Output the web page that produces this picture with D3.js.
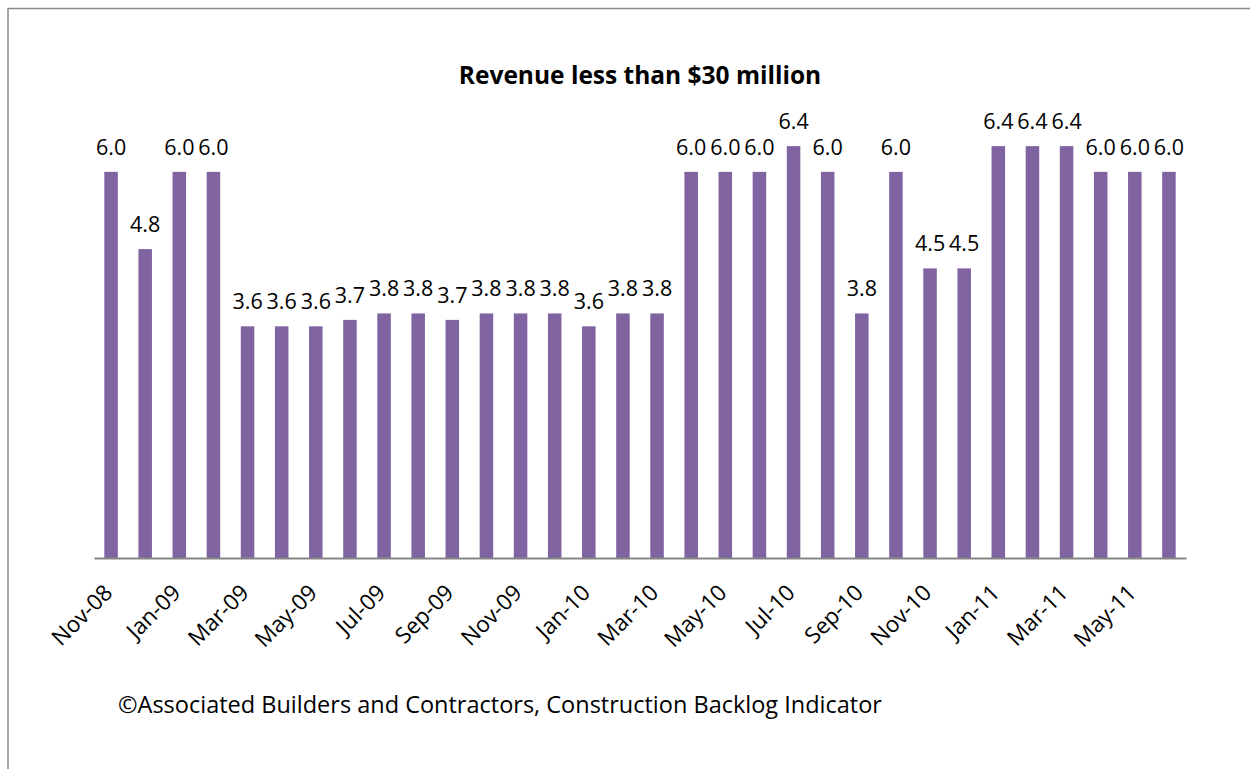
<!DOCTYPE html>
<html>
<head>
<meta charset="utf-8">
<script src="https://cdn.jsdelivr.net/npm/d3@7"></script>
<style>
  html, body { margin: 0; padding: 0; background: #ffffff; }
  svg { display: block; }
  text { font-family: "Open Sans", "Liberation Sans", sans-serif; fill: #000; }
</style>
</head>
<body>
<svg id="chart" width="1250" height="769"></svg>
<script>
// ---- Data ----
const categories = ["Nov-08","Dec-08","Jan-09","Feb-09","Mar-09","Apr-09","May-09","Jun-09",
  "Jul-09","Aug-09","Sep-09","Oct-09","Nov-09","Dec-09","Jan-10","Feb-10","Mar-10","Apr-10",
  "May-10","Jun-10","Jul-10","Aug-10","Sep-10","Oct-10","Nov-10","Dec-10","Jan-11","Feb-11",
  "Mar-11","Apr-11","May-11","Jun-11"];
const values = [6.0,4.8,6.0,6.0,3.6,3.6,3.6,3.7,3.8,3.8,3.7,3.8,3.8,3.8,3.6,3.8,3.8,6.0,
  6.0,6.0,6.4,6.0,3.8,6.0,4.5,4.5,6.4,6.4,6.4,6.0,6.0,6.0];
const tickLabels = ["Nov-08","Jan-09","Mar-09","May-09","Jul-09","Sep-09","Nov-09","Jan-10",
  "Mar-10","May-10","Jul-10","Sep-10","Nov-10","Jan-11","Mar-11","May-11"];
const titleText = "Revenue less than $30 million";
const sourceText = "\u00A9Associated Builders and Contractors, Construction Backlog Indicator";

// ---- Layout ----
const svg = d3.select("#chart");
const plot = { left: 94, right: 1186, base: 558, top: 107.5 };

const x = d3.scaleBand().domain(categories).range([plot.left, plot.right])
  .paddingInner(0.604).paddingOuter(0.302);
const y = d3.scaleLinear().domain([0, 7]).range([plot.base, plot.top]);

// frame lines (chart area border, partially visible)
svg.append("line").attr("x1", 8).attr("x2", 1250).attr("y1", 8.5).attr("y2", 8.5)
  .attr("stroke", "#8a8a8a").attr("stroke-width", 1.5);
svg.append("line").attr("x1", 8).attr("x2", 8).attr("y1", 8).attr("y2", 769)
  .attr("stroke", "#8a8a8a").attr("stroke-width", 1.5);

// title
svg.append("text").attr("x", 640).attr("y", 84).attr("text-anchor", "middle")
  .style("font-weight", "bold").style("font-size", "24.5px").text(titleText);

// bars
svg.append("g").selectAll("rect").data(values).join("rect")
  .attr("x", (d, i) => x(categories[i]))
  .attr("width", x.bandwidth())
  .attr("y", d => y(d))
  .attr("height", d => y(0) - y(d))
  .attr("fill", "#8064A2");

// value labels
svg.append("g").selectAll("text").data(values).join("text")
  .attr("x", (d, i) => x(categories[i]) + x.bandwidth() / 2)
  .attr("y", d => y(d) - 17)
  .attr("text-anchor", "middle")
  .style("font-size", "21.5px")
  .text(d => d.toFixed(1));

// x axis
const axis = d3.axisBottom(x).tickValues(tickLabels).tickSize(0).tickPadding(0);
const gx = svg.append("g").attr("transform", `translate(0,${plot.base})`).call(axis);
gx.select(".domain").attr("stroke", "#868686").attr("stroke-width", 2);
gx.selectAll(".tick text")
  .attr("text-anchor", "end")
  .attr("dy", null)
  .attr("x", 4)
  .attr("y", 0)
  .attr("transform", "translate(0,39) rotate(-45)")
  .style("font-size", "22.5px")
  .style("font-family", "'Open Sans', sans-serif")
  .attr("fill", "#000");

// source note
svg.append("text").attr("x", 118).attr("y", 713)
  .style("font-size", "23.5px").text(sourceText);
</script>
</body>
</html>
